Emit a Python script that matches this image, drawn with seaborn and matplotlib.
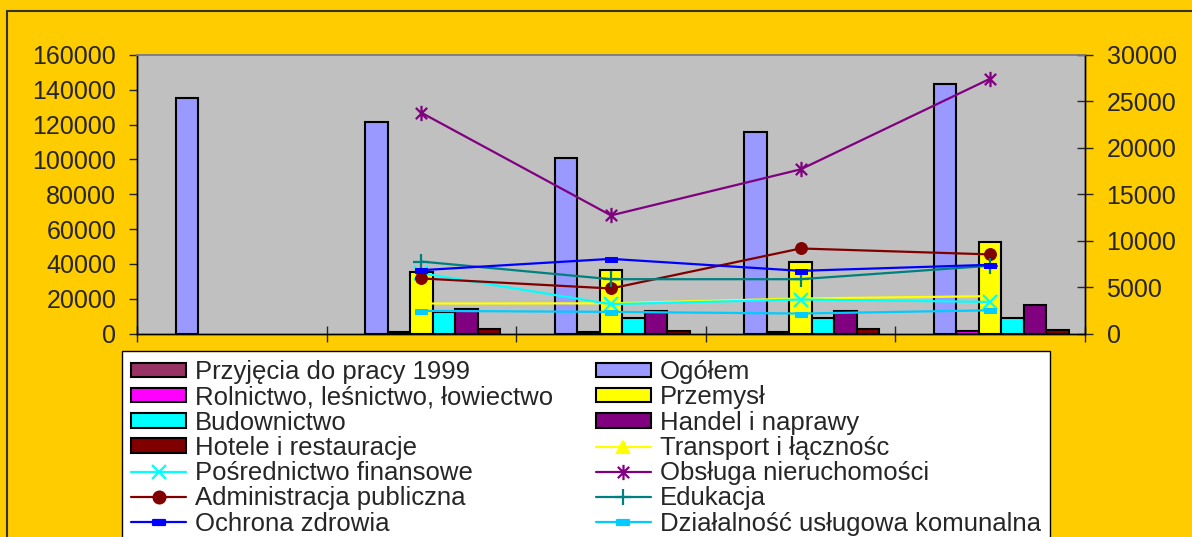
import numpy as np
import pandas as pd
import matplotlib
matplotlib.use('Agg')
import matplotlib.pyplot as plt
from matplotlib.patches import Patch, Rectangle
from matplotlib.lines import Line2D
from matplotlib.path import Path
import seaborn as sns

# data
categories = ['1', '2', '3', '4', '5']

bar_series = ['Przyjęcia do pracy 1999', 'Ogółem', 'Rolnictwo, leśnictwo, łowiectwo',
              'Przemysł', 'Budownictwo', 'Handel i naprawy', 'Hotele i restauracje']
bar_colors = ['#993366', '#9999FF', '#FF00FF', '#FFFF00', '#00FFFF', '#800080', '#800000']

nan = np.nan
przyjecia = [nan, nan, nan, nan, nan]
ogolem = [135500, 121500, 100800, 116000, 143300]
rolnictwo = [nan, 1100, 1100, 1100, 1200]
przemysl = [nan, 35600, 36700, 41300, 52700]
budownictwo = [nan, 12500, 9100, 9100, 9000]
handel = [nan, 14000, 12900, 12700, 16100]
hotele = [nan, 2300, 1300, 2500, 2000]

line_series = ['Transport i łącznośc', 'Pośrednictwo finansowe', 'Obsługa nieruchomości',
               'Administracja publiczna', 'Edukacja', 'Ochrona zdrowia',
               'Działalność usługowa komunalna']
line_colors = ['#FFFF00', '#00FFFF', '#800080', '#800000', '#008080', '#0000FF', '#00CCFF']

transport = [nan, 3230, 3250, 3770, 4020]
posrednictwo = [nan, 6500, 3160, 3660, 3400]
obsluga = [nan, 23780, 12720, 17680, 27450]
administracja = [nan, 5930, 4850, 9160, 8520]
edukacja = [nan, 7750, 5850, 5850, 7300]
ochrona = [nan, 6820, 8040, 6750, 7400]
dzialalnosc = [nan, 2440, 2330, 2150, 2500]

bar_values = [przyjecia, ogolem, rolnictwo, przemysl, budownictwo, handel, hotele]
line_values = [transport, posrednictwo, obsluga, administracja, edukacja, ochrona, dzialalnosc]

# markers (Excel style)
star = Path([(-1, -1), (1, 1), (-1, 1), (1, -1), (0, -1.35), (0, 1.35)],
            [Path.MOVETO, Path.LINETO] * 3)
dash = Path([(-1, -0.4), (1, -0.4), (1, 0.4), (-1, 0.4), (-1, -0.4)],
            [Path.MOVETO, Path.LINETO, Path.LINETO, Path.LINETO, Path.CLOSEPOLY])
line_markers = ['^', 'x', star, 'o', '+', dash, dash]
marker_sizes = [9, 10, 11, 8.5, 11, 9, 9]

df = pd.DataFrame({
    'cat': np.repeat([categories], len(bar_series), axis=0).ravel(),
    'series': np.repeat(bar_series, len(categories)),
    'value': np.concatenate(bar_values),
})

sns.set_style('white')
plt.rcParams['font.family'] = ['Liberation Sans', 'DejaVu Sans']

fig = plt.figure(figsize=(11.92, 5.37), dpi=100, facecolor='#FFCC00')
ax = fig.add_axes([137 / 1192, 1 - 333.5 / 537, (1085 - 137) / 1192, (333.5 - 55) / 537])
ax.set_facecolor('#C0C0C0')

sns.barplot(data=df, x='cat', y='value', hue='series', order=categories, hue_order=bar_series,
            palette=bar_colors, width=0.83, edgecolor='black', linewidth=1.5,
            saturation=1, errorbar=None, legend=False, ax=ax)

ax2 = ax.twinx()
xpos = np.arange(len(categories))
for vals, col, mk, ms in zip(line_values, line_colors, line_markers, marker_sizes):
    kw = dict(markeredgecolor=col, markerfacecolor=col)
    if mk in ('x', '+') or mk is star:
        kw['markeredgewidth'] = 1.6
    sns.lineplot(x=xpos, y=vals, ax=ax2, color=col, marker=mk, markersize=ms,
                 linewidth=1.6, sort=False, legend=False, **kw)

ax.set_xlim(-0.5, len(categories) - 0.5)
ax.set_ylim(0, 160000)
ax.set_yticks(range(0, 160001, 20000))
ax2.set_ylim(0, 30000)
ax2.set_yticks(range(0, 30001, 5000))
ax.set_xticks(np.arange(len(categories) + 1) - 0.5)
ax.set_xticklabels([])
ax.set_xlabel('')
ax.set_ylabel('')
ax2.set_ylabel('')

ax.tick_params(axis='y', direction='out', length=6, width=1, labelsize=18, pad=9, left=True)
ax.tick_params(axis='x', direction='inout', length=12, width=1, bottom=True)
ax2.tick_params(axis='y', direction='inout', length=11, width=1, labelsize=18, pad=10, right=True)

for a in (ax, ax2):
    for side in ('left', 'right', 'bottom'):
        a.spines[side].set_color('black')
        a.spines[side].set_linewidth(1)
    a.spines['top'].set_color('#808080')
    a.spines['top'].set_linewidth(1.2)

# legend: bars then lines, row-major into 2 columns
handles = [Patch(facecolor=c, edgecolor='black', linewidth=1.5) for c in bar_colors]
for col, mk, ms in zip(line_colors, line_markers, marker_sizes):
    handles.append(Line2D([], [], color=col, marker=mk, markersize=ms, linewidth=1.6,
                          markeredgecolor=col, markerfacecolor=col, markeredgewidth=1.6))
labels = bar_series + line_series
order = list(range(0, len(labels), 2)) + list(range(1, len(labels), 2))

leg = fig.legend([handles[i] for i in order], [labels[i] for i in order],
                 loc='upper left', bbox_to_anchor=(122 / 1192, 1 - 351 / 537),
                 ncol=2, frameon=True, fancybox=False, shadow=False,
                 edgecolor='black', facecolor='white', framealpha=1,
                 fontsize=18.5, handlelength=2.15, handleheight=0.5, handletextpad=0.35,
                 labelspacing=0.05, columnspacing=1.65, borderpad=0.35, borderaxespad=0)
leg.get_frame().set_linewidth(1.0)

# outer chart frame
fig.patches.append(Rectangle((7 / 1192, -0.1), 1.2, 1 - 11 / 537 + 0.1,
                             transform=fig.transFigure, fill=False,
                             edgecolor='#333333', linewidth=1.5))

fig.savefig('out.png', dpi=100, facecolor=fig.get_facecolor())
